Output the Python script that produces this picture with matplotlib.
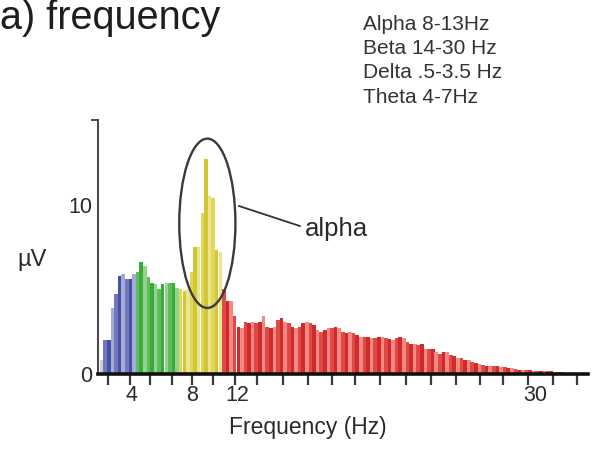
import matplotlib
matplotlib.use('Agg')
import matplotlib.pyplot as plt
from matplotlib.patches import Ellipse
import numpy as np

W, H = 598, 451
plt.rcParams['font.family'] = ['Liberation Sans', 'DejaVu Sans']

# ---- data (amplitude in microvolts per spectral bin) ----
below_delta = [0.8]
delta = [2.0, 2.0, 3.9, 4.7, 5.8, 5.9, 5.6, 5.6, 5.9]
theta = [6.0, 6.6, 6.4, 5.7, 5.4, 5.3, 5.0, 5.3, 5.4, 5.4, 5.4, 5.1]
alpha = [5.0, 4.9, 5.0, 6.0, 7.5, 7.5, 9.5, 12.7, 10.5, 10.4, 7.3, 7.2]
beta = [5.0, 4.3, 4.3, 3.4, 2.8, 2.7, 3.1, 3.0, 3.1, 3.0,
        3.1, 3.4, 2.8, 2.7, 2.8, 3.2, 3.3, 3.1, 3.0, 2.8,
        2.7, 2.8, 3.0, 3.1, 3.0, 2.9, 2.6, 2.5, 2.6, 2.7,
        2.7, 2.8, 2.7, 2.5, 2.4, 2.5, 2.4, 2.3, 2.2, 2.2,
        2.2, 2.1, 2.15, 2.2, 2.2, 2.1, 2.05, 2.0, 2.1, 2.2,
        2.1, 1.9, 1.8, 1.75, 1.7, 1.75, 1.5, 1.5, 1.5, 1.3,
        1.2, 1.3, 1.3, 1.1, 1.05, 0.95, 0.95, 0.85, 0.8, 0.7,
        0.65, 0.6, 0.55, 0.45, 0.45, 0.45, 0.45, 0.4, 0.4, 0.35,
        0.35, 0.3, 0.25, 0.25, 0.25, 0.25, 0.2, 0.2, 0.2, 0.15,
        0.15, 0.15, 0.1, 0.1, 0.1]

band_series = [below_delta, delta, theta, alpha, beta]
band_shades = [
    ['#cfcfcf', '#d8d8d8', '#c6c6c6'],
    ['#7078c0', '#46519f', '#a6aad8'],
    ['#5cbf5c', '#3aaa3a', '#94d294'],
    ['#e0d65a', '#d2c536', '#ece48c'],
    ['#e04a46', '#d22a2a', '#f08a82'],
]

tick_positions = [1.8, 7.9, 13.5, 19.6, 25.1, 31.0, 37.1, 43.2, 50.4, 57.4, 64.0,
                  70.4, 77.4, 84.6, 91.5, 98.5, 105.2, 111.5, 118.5, 125.4, 132.1]
label_positions = [8.2, 25.1, 37.6, 120.4]
label_texts = ['4', '8', '12', '30']

legend_lines = ['Alpha 8-13Hz', 'Beta 14-30 Hz', 'Delta .5-3.5 Hz', 'Theta 4-7Hz']

# ---- build bars ----
amps = []
colors = []
for series, shades in zip(band_series, band_shades):
    for k, v in enumerate(series):
        amps.append(v)
        colors.append(shades[k % 3])
x = np.arange(len(amps))

fig = plt.figure(figsize=(W / 100, H / 100), dpi=100)

def fx(px):
    return px / W

def fy(py):
    return 1 - py / H

ax_left, ax_right, ax_top, ax_bot = 98, 588, 120, 374
ax = fig.add_axes([fx(ax_left), fy(ax_bot), (ax_right - ax_left) / W, (ax_bot - ax_top) / H])

ax.bar(x, amps, width=1.0, color=colors, linewidth=0, zorder=2)

px_per_bin = 3.6
x0_px = 101.5
ax.set_xlim((ax_left - x0_px) / px_per_bin, (ax_right - x0_px) / px_per_bin)
ax.set_ylim(0, 15)

for s in ['top', 'right']:
    ax.spines[s].set_visible(False)
ax.spines['left'].set_color('#4a4a4a')
ax.spines['left'].set_linewidth(1.5)
ax.spines['bottom'].set_color('#111111')
ax.spines['bottom'].set_linewidth(2.6)
ax.spines['bottom'].set_zorder(4)

ax.set_xticks(label_positions, label_texts)
ax.set_xticks(tick_positions, minor=True)
ax.xaxis.remove_overlapping_locs = False
ax.tick_params(axis='x', which='major', length=0, pad=8, labelsize=15.5, labelcolor='#2a2a2a')
ax.tick_params(axis='x', which='minor', length=8, width=1.6, color='#3a3a3a', direction='out')

ax.set_yticks([0, 10], ['0', '10'])
ax.set_yticks([15], minor=True)
ax.tick_params(axis='y', which='major', length=0, pad=4, labelsize=15.5, labelcolor='#2a2a2a')
ax.tick_params(axis='y', which='minor', length=5, width=1.4, color='#4a4a4a')

# ellipse around the alpha peak
ell = Ellipse((29.4, 8.9), 15.6, 10.0, fill=False, edgecolor='#3a3a3a', linewidth=1.7, zorder=5)
ax.add_patch(ell)
ax.plot([38.2, 55.1], [9.92, 8.74], color='#333333', linewidth=1.3, zorder=5)
ax.text(56.5, 8.15, 'alpha', fontsize=18.5, color='#2a2a2a', va='baseline', ha='left')

# texts
fig.text(fx(0.5), fy(29), 'a) frequency', fontsize=28.5, color='#1e1e1e', va='baseline', ha='left')
for k, line in enumerate(legend_lines):
    fig.text(fx(363), fy(30 + 24.2 * k), line, fontsize=15, color='#333333',
             va='baseline', ha='left')
fig.text(fx(32), fy(260), 'µV', fontsize=17, color='#2a2a2a', va='center', ha='center')
fig.text(fx(308), fy(434), 'Frequency (Hz)', fontsize=16.5, color='#2a2a2a',
         va='baseline', ha='center')

fig.savefig('out.png', dpi=100)
